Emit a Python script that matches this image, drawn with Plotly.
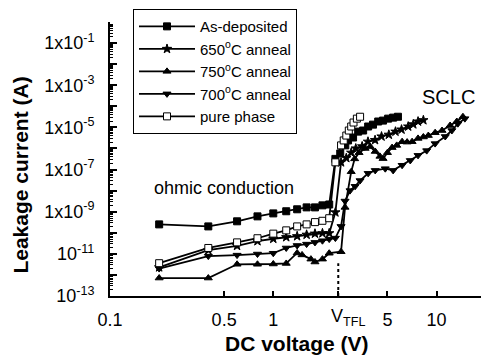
import numpy as np
import plotly.graph_objects as go

# ---------------- data ----------------
v_asdep = [0.2, 0.4, 0.6, 0.8, 1.0, 1.2, 1.4, 1.6, 1.8, 2.0, 2.2, 2.4, 2.57, 2.76, 2.87,
           3.08, 3.31, 3.55, 3.81, 4.08, 4.39, 4.7, 5.05, 5.42, 5.8]
i_asdep = [2.5e-10, 2.0e-10, 3.5e-10, 6.0e-10, 8.3e-10, 1.05e-9, 1.3e-9, 1.6e-9, 1.6e-9, 2.0e-9,
           2.2e-9, 3.2e-7, 5.8e-7, 1.4e-6, 2.4e-6, 3.3e-6, 6.3e-6, 7.1e-6, 1.1e-5, 1.35e-5,
           1.9e-5, 2.1e-5, 2.6e-5, 2.9e-5, 3.2e-5]

v_650 = [0.2, 0.4, 0.6, 0.8, 1.0, 1.2, 1.4, 1.6, 1.8, 2.0, 2.2, 2.4, 2.6, 2.8, 3.0, 3.2, 3.5,
         3.8, 4.2, 4.6, 5.1, 5.6, 6.1, 6.7, 7.2, 7.7, 8.3]
i_650 = [2.3e-12, 1.5e-11, 2.4e-11, 4.0e-11, 5.2e-11, 6.2e-11, 6.9e-11, 8.1e-11, 9.1e-11, 9.5e-11,
         9.5e-11, 9.3e-10, 2.2e-7, 3.5e-7, 6.3e-7, 1.0e-6, 1.26e-6, 2.1e-6, 2.5e-6, 3.7e-6,
         4.5e-6, 6.3e-6, 7.9e-6, 1.1e-5, 1.4e-5, 1.9e-5, 2.2e-5]

v_750 = [0.2, 0.4, 0.6, 0.8, 1.0, 1.2, 1.4, 1.5, 1.7, 1.8, 2.0, 2.2, 2.6, 2.75, 3.0, 3.15,
         3.35, 3.65, 3.92, 4.21, 4.5, 4.7, 5.0, 5.34, 5.7, 6.15, 6.6, 7.08, 7.7, 8.3, 8.9, 9.8,
         10.8, 12.1, 13.3, 14.5]
i_750 = [7.1e-13, 7.1e-13, 3.2e-12, 3.2e-12, 3.3e-12, 3.5e-12, 1.1e-11, 8.9e-12, 5.6e-12, 4.1e-12,
         5.6e-12, 1.07e-11, 1.26e-11, 1.6e-9, 7.9e-8, 3.2e-7, 6.3e-7, 1.0e-6, 1.23e-6, 7.2e-7,
         4.2e-7, 3.3e-7, 6.3e-7, 1.1e-6, 1.4e-6, 2.1e-6, 2.0e-6, 2.1e-6, 3.0e-6, 3.5e-6, 4.1e-6,
         5.6e-6, 7.1e-6, 1.23e-5, 1.9e-5, 3.2e-5]

v_700 = [0.2, 0.4, 0.6, 0.8, 1.0, 1.2, 1.4, 1.6, 1.8, 2.0, 2.2, 2.4, 2.6, 2.75, 2.95, 3.17,
         3.4, 3.81, 4.21, 4.85, 5.42, 6.15, 6.9, 7.7, 8.7, 9.8, 11.3, 12.4, 13.5, 14.9]
i_700 = [2.0e-12, 7.8e-12, 8.7e-12, 9.8e-12, 1.07e-11, 1.9e-11, 2.5e-11, 2.9e-11, 3.5e-11, 4.2e-11,
         5.0e-11, 5.6e-11, 2.0e-10, 3.2e-9, 1.0e-8, 1.6e-8, 3.0e-8, 6.6e-8, 9.1e-8, 1.1e-7,
         9.1e-8, 1.6e-7, 2.7e-7, 4.7e-7, 7.9e-7, 1.7e-6, 3.7e-6, 7.1e-6, 1.5e-5, 2.6e-5]

v_pure = [0.2, 0.4, 0.6, 0.8, 1.0, 1.2, 1.4, 1.6, 1.8, 2.0, 2.2, 2.4, 2.6, 2.7, 2.8, 2.9, 3.0,
          3.1, 3.25, 3.4]
i_pure = [3.6e-12, 1.9e-11, 3.5e-11, 5.5e-11, 9.1e-11, 1.3e-10, 2.0e-10, 2.5e-10, 3.2e-10, 3.7e-10,
          4.9e-10, 2.2e-7, 1.4e-6, 2.4e-6, 4.1e-6, 7.1e-6, 1.1e-5, 1.7e-5, 2.6e-5, 3.2e-5]

v_tfl = 2.5
tfl_line_i = [1e-13, 3.6e-12]

x_tickvals = [0.1, 0.5, 1, 2.5, 5, 10]
x_ticktext = ["0.1", "0.5", "1", "", "5", "10"]
y_tickvals = [1e-13, 1e-12, 1e-11, 1e-10, 1e-9, 1e-8, 1e-7, 1e-6, 1e-5, 1e-4, 1e-3, 1e-2, 1e-1]
y_ticktext = ["10<sup>-13</sup>", "", "10<sup>-11</sup>", "", "1x10<sup>-9</sup>", "",
              "1x10<sup>-7</sup>", "", "1x10<sup>-5</sup>", "", "1x10<sup>-3</sup>", "",
              "1x10<sup>-1</sup>"]

FONT = "Liberation Sans, Arial, sans-serif"

series = [
    ("As-deposited", v_asdep, i_asdep, "square", "black"),
    ("650<sup>o</sup>C anneal", v_650, i_650, "star", "black"),
    ("750<sup>o</sup>C anneal", v_750, i_750, "triangle-up", "black"),
    ("700<sup>o</sup>C anneal", v_700, i_700, "triangle-down", "black"),
    ("pure phase", v_pure, i_pure, "square", "white"),
]

fig = go.Figure()
for name, xs, ys, sym, fill in series:
    fig.add_trace(go.Scatter(
        x=xs, y=ys, name=name, mode="lines+markers",
        line=dict(color="black", width=1.8),
        marker=dict(symbol=sym, size=7, color=fill, line=dict(color="black", width=1)),
    ))

# dotted V_TFL marker
fig.add_trace(go.Scatter(
    x=[v_tfl, v_tfl], y=tfl_line_i, mode="lines", showlegend=False,
    line=dict(color="black", width=2, dash="dot"),
))

fig.update_layout(
    width=482, height=356,
    margin=dict(l=110, r=1, t=22, b=60, autoexpand=False),
    paper_bgcolor="white", plot_bgcolor="white",
    font=dict(family=FONT, color="black", size=18),
    showlegend=True,
    legend=dict(
        x=0.062, y=1.047, xanchor="left", yanchor="top",
        bgcolor="white", bordercolor="black", borderwidth=1,
        font=dict(size=15, family=FONT, color="black"),
        tracegroupgap=0, itemwidth=56,
    ),
    xaxis=dict(
        type="log", range=[-1, 1.272], automargin=False,
        tickmode="array", tickvals=x_tickvals, ticktext=x_ticktext,
        ticks="inside", ticklen=5, tickwidth=1.5, tickcolor="black",
        showline=True, linewidth=2, linecolor="black",
        showgrid=False, zeroline=False,
        tickfont=dict(size=18, family=FONT),
        ticklabelstandoff=6,
    ),
    yaxis=dict(
        type="log", range=[-13, 0], automargin=False,
        tickmode="array", tickvals=y_tickvals, ticktext=y_ticktext,
        ticks="inside", ticklen=7, tickwidth=1.5, tickcolor="black",
        showline=True, linewidth=2, linecolor="black",
        showgrid=False, zeroline=False,
        tickfont=dict(size=18, family=FONT),
        ticklabelstandoff=10,
        minor=dict(ticks="inside", ticklen=3, tickcolor="black", tickwidth=1,
                   dtick="D1", showgrid=False),
    ),
    annotations=[
        dict(x=np.log10(v_tfl), y=0, xref="x", yref="paper", xanchor="left", yanchor="top",
             xshift=-9, yshift=-8, showarrow=False, text="V<sub>TFL</sub>",
             font=dict(size=18, family=FONT)),
        dict(x=np.log10(0.50), y=-7.88, xref="x", yref="y", showarrow=False,
             text="ohmic conduction", font=dict(size=18, family=FONT)),
        dict(x=np.log10(11.9), y=-3.56, xref="x", yref="y", showarrow=False,
             text="SCLC", font=dict(size=20, family=FONT)),
        dict(x=0.504, y=0, xref="paper", yref="paper", yanchor="middle", yshift=-47,
             showarrow=False, text="<b>DC voltage (V)</b>", font=dict(size=21, family=FONT)),
        dict(x=-0.240, y=0.443, xref="paper", yref="paper", xanchor="center", yanchor="middle",
             textangle=-90, showarrow=False, text="<b>Leakage current (A)</b>",
             font=dict(size=21, family=FONT)),
    ],
)

fig.write_html("out.html", config={"displayModeBar": False},
               post_script="document.body.style.margin='0';document.body.style.padding='0';")
